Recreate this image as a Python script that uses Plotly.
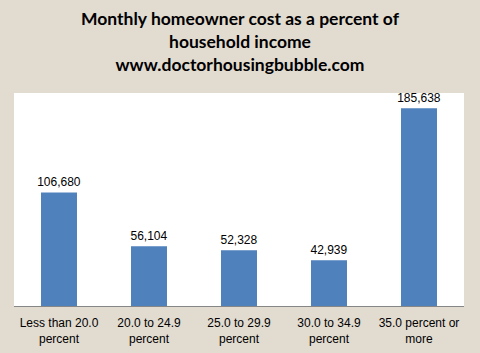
import plotly.graph_objects as go

categories = ["Less than 20.0<br>percent", "20.0 to 24.9<br>percent", "25.0 to 29.9<br>percent",
              "30.0 to 34.9<br>percent", "35.0 percent or<br>more"]
values = [106680, 56104, 52328, 42939, 185638]
labels = ["106,680", "56,104", "52,328", "42,939", "185,638"]

fig = go.Figure(go.Bar(
    x=categories, y=values, text=labels, textposition="outside",
    constraintext="none",
    marker=dict(color="#4f81bd", line=dict(width=0)),
    textfont=dict(family="Liberation Sans, Arial", size=12, color="#000000"),
    cliponaxis=False,
))

fig.update_layout(
    width=480, height=353,
    margin=dict(l=14, r=16, t=93, b=47, autoexpand=False),
    paper_bgcolor="#e2dbd0", plot_bgcolor="#ffffff",
    bargap=0.6,
    showlegend=False,
    title=dict(
        text="Monthly homeowner cost as a percent of<br>household income<br>www.doctorhousingbubble.com",
        x=0.5, xanchor="center", y=0.928, yanchor="top",
        font=dict(family="Lato, Liberation Sans, Arial", size=17.5, color="#000000", weight="bold"),
        automargin=False,
    ),
    xaxis=dict(showline=True, linecolor="#868686", linewidth=1, ticks="", showgrid=False,
               ticklabelstandoff=6, automargin=False,
               tickfont=dict(family="Liberation Sans, Arial", size=12, color="#000000")),
    yaxis=dict(range=[0, 200000], visible=False, showgrid=False, automargin=False),
)

fig.write_html("out.html")
